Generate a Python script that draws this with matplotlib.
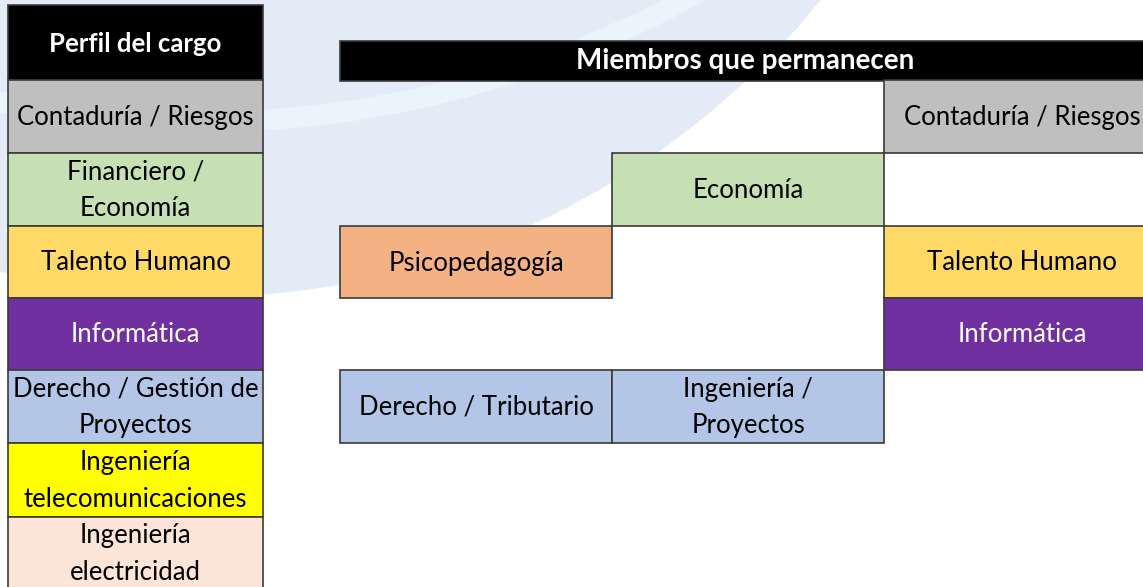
import matplotlib.pyplot as plt
from matplotlib.patches import Rectangle, Circle

# ---- datos ----
perfil_titulo = "Perfil del cargo"
perfil = ["Contaduría / Riesgos", "Financiero /\nEconomía", "Talento Humano", "Informática",
          "Derecho / Gestión de\nProyectos", "Ingeniería\ntelecomunicaciones", "Ingeniería\nelectricidad"]
perfil_colores = ["#bfbfbf", "#c6e0b4", "#ffd966", "#7030a0", "#b4c6e7", "#ffff00", "#fce4d6"]

miembros_titulo = "Miembros que permanecen"
# (fila, columna, texto, color)
miembros_fila = [0, 1, 2, 2, 3, 4, 4]
miembros_col = [2, 1, 0, 2, 2, 0, 1]
miembros_texto = ["Contaduría / Riesgos", "Economía", "Psicopedagogía", "Talento Humano",
                  "Informática", "Derecho / Tributario", "Ingeniería /\nProyectos"]
miembros_colores = ["#bfbfbf", "#c6e0b4", "#f4b183", "#ffd966", "#7030a0", "#b4c6e7", "#b4c6e7"]

# ---- layout (pixeles) ----
W, H = 1143, 587
filas_y = [80, 153, 226, 298, 370, 443, 517, 590]
izq_x = (8, 263)
col_x = [340, 612, 884, 1160]
borde = "#3a3a3a"
fuente = "Lato"
fs = 18.5

fig = plt.figure(figsize=(W / 100, H / 100), dpi=100)
ax = fig.add_axes([0, 0, 1, 1])
ax.set_xlim(0, W)
ax.set_ylim(H, 0)
ax.axis("off")

# fondo: arco azul claro con una franja mas clara
clip = Rectangle((8, 5), W, H, transform=ax.transData)
c1 = Circle((200, -500), 797, facecolor="#e3ecf6", edgecolor="none", zorder=0)
c1.set_clip_path(clip)
ax.add_patch(c1)
c2 = Circle((200, -900), 1022, facecolor="none", edgecolor="#e9f4fb", linewidth=15, zorder=0.5)
c2.set_clip_path(c1)
ax.add_patch(c2)


def celda(x0, x1, y0, y1, color, texto, tcolor="black", bold=False):
    ax.add_patch(Rectangle((x0, y0), x1 - x0, y1 - y0, facecolor=color,
                           edgecolor=borde, linewidth=1.2, zorder=2))
    ax.text((x0 + x1) / 2, (y0 + y1) / 2 + 1, texto, ha="center", va="center",
            fontsize=fs, color=tcolor, family=fuente, linespacing=1.6,
            fontweight="bold" if bold else "normal", zorder=3)


# tabla izquierda
celda(izq_x[0], izq_x[1], 5, filas_y[0], "black", perfil_titulo, "white", bold=True)
for i, (t, c) in enumerate(zip(perfil, perfil_colores)):
    tc = "white" if c == "#7030a0" else "black"
    celda(izq_x[0], izq_x[1], filas_y[i], filas_y[i + 1], c, t, tc)

# tabla derecha
celda(col_x[0], col_x[-1], 41, 81, "black", "", "white")
ax.text((col_x[0] + 1143) / 2 + 4, 61, miembros_titulo, ha="center", va="center",
        fontsize=20, color="white", family=fuente, fontweight="bold", zorder=3)
for f, c, t, colr in zip(miembros_fila, miembros_col, miembros_texto, miembros_colores):
    tc = "white" if colr == "#7030a0" else "black"
    celda(col_x[c], col_x[c + 1], filas_y[f], filas_y[f + 1], colr, t, tc)

fig.savefig("out.png", dpi=100)
